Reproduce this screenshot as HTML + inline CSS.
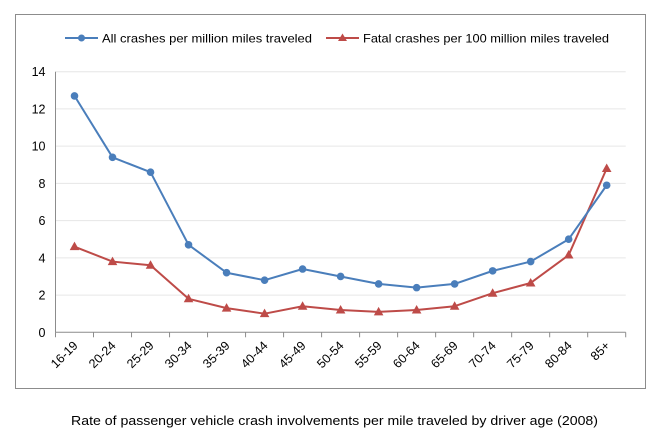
<!DOCTYPE html>
<html><head><meta charset="utf-8"><style>
body{margin:0;background:#fff;}
svg{display:block;font-family:"Liberation Sans",Arial,sans-serif;}
</style></head><body>
<svg id="chart" width="664" height="442">
<rect x="15.5" y="14.5" width="630" height="374" fill="#fff" stroke="#8c8c8c" stroke-width="1"/>
<g id="grid"></g>
<g id="axes"></g>
<g id="series"></g>
<g>
  <g>
    <line x1="65" y1="38" x2="98" y2="38" stroke="#4a7ebb" stroke-width="2"/>
    <circle cx="81.5" cy="38" r="3.5" fill="#4a7ebb"/>
    <text x="102" y="42.5" font-size="12" fill="#000" textLength="210" lengthAdjust="spacingAndGlyphs">All crashes per million miles traveled</text>
  </g>
  <g>
    <line x1="326" y1="38" x2="359" y2="38" stroke="#be4b48" stroke-width="2"/>
    <path d="M342.5,33.5 L347,41 L338,41 Z" fill="#be4b48"/>
    <text x="363" y="42.5" font-size="12" fill="#000" textLength="246" lengthAdjust="spacingAndGlyphs">Fatal crashes per 100 million miles traveled</text>
  </g>
</g>
<text x="71" y="425" font-size="13" fill="#000" textLength="527" lengthAdjust="spacingAndGlyphs">Rate of passenger vehicle crash involvements per mile traveled by driver age (2008)</text>
</svg>
<script>
const categories=["16-19","20-24","25-29","30-34","35-39","40-44","45-49","50-54","55-59","60-64","65-69","70-74","75-79","80-84","85+"];
const allCrashes=[12.7,9.4,8.6,4.7,3.2,2.8,3.4,3.0,2.6,2.4,2.6,3.3,3.8,5.0,7.9];
const fatalCrashes=[4.6,3.8,3.6,1.8,1.3,1.0,1.4,1.2,1.1,1.2,1.4,2.1,2.65,4.15,8.8];
const yTicks=[0,2,4,6,8,10,12,14];
const NS="http://www.w3.org/2000/svg";
const L=55.5,R=625.7,Y0=332.3,Y14=71.7;
const bw=(R-L)/categories.length;
function xs(i){return L+bw*(i+0.5);}
function ys(v){return Y0-(v/14)*(Y0-Y14);}
function mk(tag,attrs,parent){const e=document.createElementNS(NS,tag);for(const k in attrs)e.setAttribute(k,attrs[k]);parent.appendChild(e);return e;}
const grid=document.getElementById('grid'),axes=document.getElementById('axes'),series=document.getElementById('series');
yTicks.forEach(t=>{
  if(t>0){const g=mk('line',{x1:L,x2:R,y1:ys(t),y2:ys(t),stroke:'#e6e6e6','stroke-width':1},grid);
  
  }
  const tx=mk('text',{x:L-10,y:ys(t)+4.5,'font-size':12.5,'text-anchor':'end',fill:'#000'},axes);
  tx.textContent=t;
  
  
});
const ya=mk('line',{x1:L,x2:L,y1:Y14,y2:Y0,stroke:'#8c8c8c','stroke-width':1},axes);


const xa=mk('line',{x1:L,x2:R,y1:Y0,y2:Y0,stroke:'#8c8c8c','stroke-width':1},axes);


for(let i=0;i<=categories.length;i++){const x=L+bw*i;mk('line',{x1:x,x2:x,y1:Y0,y2:Y0+5,stroke:'#8c8c8c'},axes);}
categories.forEach((c,i)=>{
  const x=xs(i)+4,y=Y0+14;
  const t=mk('text',{x:x,y:y,'font-size':12.5,'text-anchor':'end',fill:'#000',transform:`rotate(-45 ${x} ${y})`},axes);
  t.textContent=c;
  
  
});
function drawLine(vals,color,name,marker){
  const pts=vals.map((v,i)=>xs(i)+','+ys(v)).join(' ');
  const pl=mk('polyline',{points:pts,fill:'none',stroke:color,'stroke-width':2,'stroke-linejoin':'round'},series);
  
  
  vals.forEach((v,i)=>{
    let m;
    if(marker==='circle'){m=mk('circle',{cx:xs(i),cy:ys(v),r:3.8,fill:color},series);}
    else{const x=xs(i),y=ys(v);m=mk('path',{d:`M${x},${y-5} L${x+4.8},${y+3.5} L${x-4.8},${y+3.5} Z`,fill:color},series);}
    
    
  });
}
drawLine(fatalCrashes,'#be4b48','fatal-crashes','triangle');
drawLine(allCrashes,'#4a7ebb','all-crashes','circle');
</script>
</body></html>
